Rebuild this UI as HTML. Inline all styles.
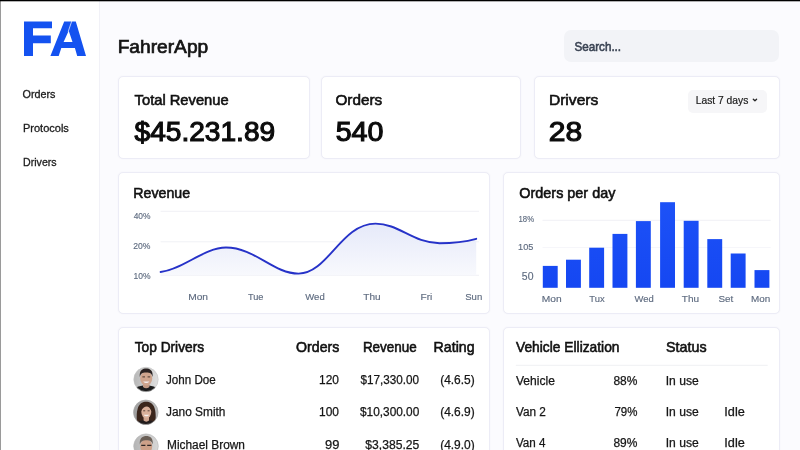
<!DOCTYPE html>
<html><head><meta charset="utf-8">
<style>
*{box-sizing:border-box;margin:0;padding:0}
html,body{width:800px;height:450px;overflow:hidden}
body{background:#fbfbfe;font-family:"Liberation Sans",sans-serif;color:#111;position:relative}
.abs{position:absolute}
#wrap{position:absolute;left:-10px;top:-10px;width:820px;height:470px;padding:0;filter:blur(.4px);background:#fbfbfe}
#wrap>*{margin-left:10px;margin-top:10px}
.side{position:absolute;left:0;top:0;width:99.6px;height:450px;background:#fff;border-right:1px solid #f1f1f7}
.topline{position:absolute;left:0;top:0;width:800px;height:2px;background:linear-gradient(#000 0,#000 50%,rgba(0,0,0,.3) 50%,rgba(0,0,0,.3) 100%);z-index:9}
.leftline{position:absolute;left:0;top:0;width:1px;height:450px;background:#9a9a9a;z-index:8}
.card{position:absolute;background:#fff;border:1px solid #ececf6;border-radius:5px;box-shadow:0 0 1.5px rgba(60,60,120,.06)}
.x{position:absolute;left:0;white-space:nowrap;transform-origin:0 0}
.title{font-size:18.5px;line-height:24px;color:#141414;-webkit-text-stroke:0.7px #141414;}
.nav{font-size:11px;line-height:14px;color:#1c1c1c;-webkit-text-stroke:0.3px #1c1c1c;}
.search{font-size:12.3px;line-height:16px;color:#3a4353;-webkit-text-stroke:0.55px #3a4353;}
.h{font-size:15px;line-height:20px;color:#111111;-webkit-text-stroke:0.6px #111111;}
.big{font-size:26.8px;line-height:35px;color:#0c0c0c;-webkit-text-stroke:1.1px #0c0c0c;}
.btn{font-size:11px;line-height:14px;color:#1b1b1b;-webkit-text-stroke:0.2px #1b1b1b;}
.ax{font-size:9.4px;line-height:12px;color:#5f6c80;-webkit-text-stroke:0.15px #5f6c80;}
.az{font-size:10px;line-height:13px;color:#5f6c80;-webkit-text-stroke:0.15px #5f6c80;}
.ay{font-size:8.8px;line-height:11px;color:#5f6c80;-webkit-text-stroke:0.15px #5f6c80;}
.t{font-size:12px;line-height:16px;color:#161616;-webkit-text-stroke:0.25px #161616;}
</style></head><body>
<div class="topline"></div><div class="leftline"></div>
<div id="wrap">
<div class="side"></div>

<svg class="abs" style="left:0;top:0" width="100" height="70" viewBox="0 0 100 70">
 <g fill="#1452f0">
 <path d="M24 21.4H52V28.3H33V35.5H50.8V43.2H33V55.9H24Z"/>
 <path fill-rule="evenodd" d="M50.4 55.9 64.2 21.4H75.8L86 55.9H77.2L74.9 48H61.3L58.7 55.9ZM63.6 42H72.5L68.7 30.7Z"/>
 </g>
 <path d="M71.8 21 68.2 31.6" stroke="#fff" stroke-width=".7" fill="none"/>
</svg>

<div class="abs" style="left:564px;top:30.3px;width:215px;height:32px;background:#f2f3f7;border-radius:7px"></div>

<div class="card" style="left:118.3px;top:75.6px;width:191.4px;height:83.6px"></div>
<div class="card" style="left:321.2px;top:75.6px;width:200px;height:83.6px"></div>
<div class="card" style="left:533.8px;top:75.6px;width:245.8px;height:83.6px"></div>
<div class="abs" style="left:688.1px;top:89.6px;width:78.6px;height:23.8px;background:#f6f6f8;border-radius:5px"></div>
<svg class="abs" style="left:750px;top:96px" width="10" height="8" viewBox="750 96 10 8"><path d="M753.3 99.2 754.95 100.8 756.6 99.2" fill="none" stroke="#222" stroke-width="1.3" stroke-linecap="round" stroke-linejoin="round"/></svg>

<div class="card" style="left:118.3px;top:171.6px;width:371.3px;height:142.4px"></div>
<div class="card" style="left:503.3px;top:171.6px;width:276.3px;height:142.4px"></div>
<div class="card" style="left:118.3px;top:326.5px;width:371.3px;height:140px"></div>
<div class="card" style="left:503.3px;top:326.6px;width:276.3px;height:140px"></div>

<svg class="abs" style="left:0;top:0" width="800" height="450" viewBox="0 0 800 450">
 <defs>
  <linearGradient id="g" x1="0" y1="222" x2="0" y2="276" gradientUnits="userSpaceOnUse"><stop offset="0" stop-color="#e5e9f9"/><stop offset="1" stop-color="#f8f9fd"/></linearGradient>
  <linearGradient id="bg" x1="0" y1="200" x2="0" y2="288" gradientUnits="userSpaceOnUse"><stop offset="0" stop-color="#1d52f7"/><stop offset="1" stop-color="#1547f2"/></linearGradient>
 </defs>
 <path d="M160.6 211.3H479M160.6 241.8H479M160.6 275.3H479" stroke="#f0f1f5" stroke-width="1" fill="none"/>
 <path fill="url(#g)" d="M160.6 272C183 269.5 204 247.5 226 247.5C255 247.5 273 273.6 298.6 273.6C328 273.6 341 223.6 375.5 223.6C399 223.6 413 243.2 439.5 243.2C454 243.2 466 241.6 476.2 238.8V275.3H160.6Z"/>
 <path fill="none" stroke="#2632c8" stroke-width="1.9" stroke-linecap="round" d="M160.6 272C183 269.5 204 247.5 226 247.5C255 247.5 273 273.6 298.6 273.6C328 273.6 341 223.6 375.5 223.6C399 223.6 413 243.2 439.5 243.2C454 243.2 466 241.6 476.2 238.8"/>
 <path d="M542.5 220.3H770.7" stroke="#f0f1f6" stroke-width="1" fill="none"/><path d="M542.5 247.5H770.7" stroke="#f6f6fa" stroke-width="1" fill="none"/>
 <g fill="url(#bg)"><rect x="542.8" y="265.9" width="14.9" height="21.9"/><rect x="566" y="259.7" width="14.9" height="28.1"/><rect x="589.2" y="247.7" width="14.9" height="40.1"/><rect x="612.5" y="233.9" width="14.9" height="53.9"/><rect x="635.9" y="221.1" width="14.9" height="66.7"/><rect x="660.1" y="202.2" width="14.9" height="85.6"/><rect x="683.7" y="220.8" width="14.9" height="67"/><rect x="707.3" y="239.1" width="14.9" height="48.7"/><rect x="730.7" y="253.5" width="14.9" height="34.3"/><rect x="754.5" y="270.1" width="14.9" height="17.7"/></g>
 <path d="M515.8 365.3H767.7" stroke="#eff0f3" stroke-width="1" fill="none"/>
</svg>

<svg class="abs" style="left:130px;top:364px" width="32" height="90" viewBox="130 364 32 90">
 <defs>
  <filter id="bl" x="-10%" y="-10%" width="120%" height="120%"><feGaussianBlur stdDeviation=".55"/></filter>
  <clipPath id="c1"><circle cx="146" cy="379.5" r="12.2"/></clipPath>
  <clipPath id="c2"><circle cx="145.8" cy="412.3" r="12.3"/></clipPath>
  <clipPath id="c3"><circle cx="146" cy="446.2" r="12.3"/></clipPath>
  <linearGradient id="a1" x1="0" x2="1" y1="0" y2="0"><stop offset="0" stop-color="#b4b4b4"/><stop offset="1" stop-color="#e2e2e2"/></linearGradient>
  <linearGradient id="a2" x1="0" x2="1" y1="0" y2="0"><stop offset="0" stop-color="#9c9c9c"/><stop offset="1" stop-color="#c0c0c0"/></linearGradient>
  <linearGradient id="a3" x1="0" x2="1" y1="0" y2="0"><stop offset="0" stop-color="#b2b2b2"/><stop offset="1" stop-color="#dadada"/></linearGradient>
 </defs>
 <g clip-path="url(#c1)"><g filter="url(#bl)">
  <rect x="132" y="366" width="28" height="28" fill="url(#a1)"/>
  <path d="M133 394C133 387.5 138 385.6 146 385.6S159 387.5 159 394Z" fill="#1b1b1d"/>
  <path d="M143 383H149.4V387C147.4 388.8 145 388.8 143 387Z" fill="#c39a84"/>
  <ellipse cx="146.2" cy="378.4" rx="6" ry="7.1" fill="#cfa58e"/>
  <path d="M139.8 377C139.2 370 142.6 368.4 146.2 368.4S153.2 370 152.6 377C152 373.6 150.4 372.4 146.2 372.4S140.4 373.6 139.8 377Z" fill="#2b2421"/>
  <path d="M142.4 376.9H145M147.6 376.9H150.2" stroke="#4a382f" stroke-width="1"/>
  <path d="M143.2 381.4C145 383.4 147.6 383.4 149.4 381.4Z" fill="#f4ebea"/>
 </g></g>
 <circle cx="146" cy="379.5" r="12.2" fill="none" stroke="#c2c2c2" stroke-width=".6"/>

 <g clip-path="url(#c2)"><g filter="url(#bl)">
  <rect x="132" y="399" width="28" height="28" fill="url(#a2)"/>
  <path d="M137.4 426C135 408 139 401.8 146.2 401.8S157.4 408 155 426Z" fill="#3a261f"/>
  <path d="M135 427C135 421.6 140 420.2 146 420.2S157 421.6 157 427Z" fill="#241d1d"/>
  <path d="M143.6 416H149V420.6C147.4 422 145.2 422 143.6 420.6Z" fill="#cfa48e"/>
  <ellipse cx="146.3" cy="411.8" rx="5" ry="6.5" fill="#d9b09a"/>
  <path d="M141.2 411C141 405.6 143.8 404.4 146.4 404.4S151.6 405.6 151.4 411C150.2 407.8 148.4 406.8 146.8 406.6 144.4 406.8 142.4 408 141.2 411Z" fill="#3a261f"/>
  <path d="M143.2 410.8H145.2M147.6 410.8H149.6" stroke="#4a342c" stroke-width=".9"/>
  <path d="M143.6 414.8C145.2 416.8 147.6 416.8 149.2 414.8Z" fill="#f6eeec"/>
 </g></g>
 <circle cx="145.8" cy="412.3" r="12.3" fill="none" stroke="#a6a6a6" stroke-width=".6"/>

 <g clip-path="url(#c3)"><g filter="url(#bl)">
  <rect x="132" y="433" width="28" height="28" fill="url(#a3)"/>
  <ellipse cx="146.2" cy="446.6" rx="6" ry="7.2" fill="#cda088"/>
  <path d="M139.8 444.6C139.2 437.8 142.8 436 146.4 436S153.4 438 152.7 444.6C151.8 441.2 150.2 440.2 146.4 440.2S141 441.2 139.8 444.6Z" fill="#6a5f57"/>
  <path d="M141.2 445.4H145.4M147.2 445.4H151.4" stroke="#2e2826" stroke-width="1.4"/>
  <path d="M143.4 450C145.2 451.6 147.4 451.6 149.2 450Z" fill="#f4ecea"/>
 </g></g>
 <circle cx="146" cy="446.2" r="12.3" fill="none" stroke="#b6b6b6" stroke-width=".6"/>
</svg>

<div class="x title" style="top:35px;transform:translate(117.64px,0) scaleX(1.0363)">FahrerApp</div>
<div class="x nav" style="top:87px;transform:translate(22.56px,0) scaleX(0.9791)">Orders</div>
<div class="x nav" style="top:121px;transform:translate(23px,0) scaleX(0.9997)">Protocols</div>
<div class="x nav" style="top:155px;transform:translate(23.02px,0) scaleX(0.9662)">Drivers</div>
<div class="x search" style="top:39px;transform:translate(574.44px,0) scaleX(0.9481)">Search...</div>
<div class="x h" style="top:90px;transform:translate(134.6px,0) scaleX(0.9805)">Total Revenue</div>
<div class="x h" style="top:90px;transform:translate(335.45px,0) scaleX(1.0182)">Orders</div>
<div class="x h" style="top:90px;transform:translate(548.89px,0) scaleX(1.0406)">Drivers</div>
<div class="x big" style="top:115px;transform:translate(134.54px,0) scaleX(1.0484)">$45.231.89</div>
<div class="x big" style="top:115px;transform:translate(335.7px,0) scaleX(1.0677)">540</div>
<div class="x big" style="top:115px;transform:translate(548.77px,0) scaleX(1.1204)">28</div>
<div class="x btn" style="top:93px;transform:translate(695.77px,0) scaleX(0.934)">Last 7 days</div>
<div class="x h" style="top:183px;transform:translate(133.31px,0) scaleX(0.9453)">Revenue</div>
<div class="x h" style="top:183px;transform:translate(519.37px,0) scaleX(0.9594)">Orders per day</div>
<div class="x ay" style="top:211px;transform:translate(133.66px,0) scaleX(0.9553)">40%</div>
<div class="x ay" style="top:241px;transform:translate(133.16px,0) scaleX(0.9746)">20%</div>
<div class="x ay" style="top:271px;transform:translate(133.55px,0) scaleX(0.9656)">10%</div>
<div class="x ay" style="top:214px;transform:translate(518.49px,0) scaleX(0.8832)">18%</div>
<div class="x ax" style="top:241px;transform:translate(518.12px,0) scaleX(0.9762)">105</div>
<div class="x az" style="top:270px;transform:translate(521.84px,0) scaleX(1.0441)">50</div>
<div class="x ax" style="top:291px;transform:translate(188.17px,0) scaleX(1.0891)">Mon</div>
<div class="x ax" style="top:291px;transform:translate(247.98px,0) scaleX(0.9791)">Tue</div>
<div class="x ax" style="top:291px;transform:translate(305.27px,0) scaleX(1.0157)">Wed</div>
<div class="x ax" style="top:291px;transform:translate(363.28px,0) scaleX(1.0695)">Thu</div>
<div class="x ax" style="top:291px;transform:translate(420.47px,0) scaleX(1.0785)">Fri</div>
<div class="x ax" style="top:291px;transform:translate(465.23px,0) scaleX(1.017)">Sun</div>
<div class="x ax" style="top:293px;transform:translate(541.77px,0) scaleX(1.0891)">Mon</div>
<div class="x ax" style="top:293px;transform:translate(589.28px,0) scaleX(1.0032)">Tux</div>
<div class="x ax" style="top:293px;transform:translate(634.57px,0) scaleX(1.0059)">Wed</div>
<div class="x ax" style="top:293px;transform:translate(681.78px,0) scaleX(1.0695)">Thu</div>
<div class="x ax" style="top:293px;transform:translate(718.43px,0) scaleX(1.0513)">Set</div>
<div class="x ax" style="top:293px;transform:translate(751.09px,0) scaleX(1.0523)">Mon</div>
<div class="x h" style="top:337px;transform:translate(134.7px,0) scaleX(0.9147)">Top Drivers</div>
<div class="x h" style="top:337px;transform:translate(296.07px,0) scaleX(0.9432)">Orders</div>
<div class="x h" style="top:337px;transform:translate(362.91px,0) scaleX(0.8968)">Revenue</div>
<div class="x h" style="top:337px;transform:translate(433.61px,0) scaleX(0.9449)">Rating</div>
<div class="x t" style="top:372px;transform:translate(166.02px,0) scaleX(0.9674)">John Doe</div>
<div class="x t" style="top:404px;transform:translate(166.02px,0) scaleX(0.9896)">Jano Smith</div>
<div class="x t" style="top:437px;transform:translate(167.01px,0) scaleX(0.9906)">Michael Brown</div>
<div class="x t" style="top:372px;transform:translate(319.06px,0) scaleX(0.995)">120</div>
<div class="x t" style="top:404px;transform:translate(319.06px,0) scaleX(0.995)">100</div>
<div class="x t" style="top:437px;transform:translate(325.04px,0) scaleX(1.077)">99</div>
<div class="x t" style="top:372px;transform:translate(360.44px,0) scaleX(0.9755)">$17,330.00</div>
<div class="x t" style="top:404px;transform:translate(359.95px,0) scaleX(0.9883)">$10,300.00</div>
<div class="x t" style="top:437px;transform:translate(365.35px,0) scaleX(1.0106)">$3,385.25</div>
<div class="x t" style="top:372px;transform:translate(440.15px,0) scaleX(0.9962)">(4.6.5)</div>
<div class="x t" style="top:404px;transform:translate(440.15px,0) scaleX(0.9962)">(4.6.9)</div>
<div class="x t" style="top:437px;transform:translate(440.15px,0) scaleX(0.9962)">(4.9.0)</div>
<div class="x h" style="top:337px;transform:translate(515.97px,0) scaleX(0.92)">Vehicle Ellization</div>
<div class="x h" style="top:337px;transform:translate(666.07px,0) scaleX(0.9517)">Status</div>
<div class="x t" style="top:373px;transform:translate(515.92px,0) scaleX(1.0073)">Vehicle</div>
<div class="x t" style="top:404px;transform:translate(515.92px,0) scaleX(0.984)">Van 2</div>
<div class="x t" style="top:435px;transform:translate(515.92px,0) scaleX(0.9704)">Van 4</div>
<div class="x t" style="top:373px;transform:translate(613.42px,0) scaleX(0.9975)">88%</div>
<div class="x t" style="top:404px;transform:translate(614.38px,0) scaleX(0.9562)">79%</div>
<div class="x t" style="top:435px;transform:translate(613.42px,0) scaleX(0.9975)">89%</div>
<div class="x t" style="top:373px;transform:translate(665.74px,0) scaleX(1.0093)">In use</div>
<div class="x t" style="top:404px;transform:translate(665.74px,0) scaleX(1.0093)">In use</div>
<div class="x t" style="top:435px;transform:translate(665.74px,0) scaleX(1.0093)">In use</div>
<div class="x t" style="top:404px;transform:translate(724.32px,0) scaleX(1.0588)">Idle</div>
<div class="x t" style="top:435px;transform:translate(724.32px,0) scaleX(1.0588)">Idle</div>
</div>
</body></html>
